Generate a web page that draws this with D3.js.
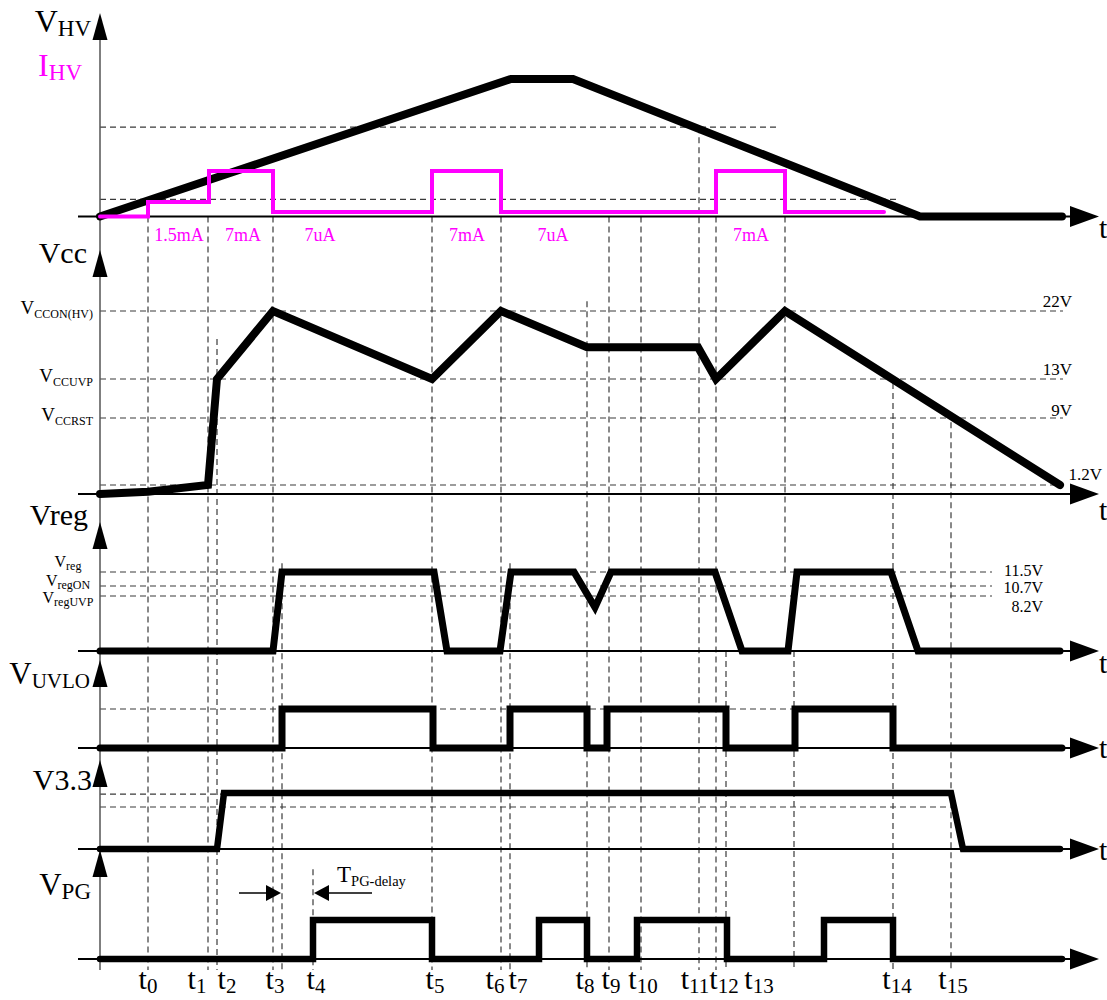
<!DOCTYPE html>
<html>
<head>
<meta charset="utf-8">
<script src="https://cdn.jsdelivr.net/npm/d3@7"></script>
<style>
  html, body { margin: 0; padding: 0; background: #fff; }
  svg { display: block; font-family: "Liberation Serif", "Times New Roman", serif; }
</style>
</head>
<body>
<svg id="chart" width="1107" height="1000"></svg>
<script>
// ---------------- waveform data (time in arbitrary units on the shared t axis) ----------------
// High-voltage input (percent of peak) and HV start-up current (mA)
const hvTime  = [0, 41.1, 47.3, 82.0, 96.2];
const hvLevel = [0, 100, 100, 0, 0];
const hvRefLevels = [65, 12.4];
const hvRefEnd    = [67.8, 80.0];

const ihvTime  = [0, 4.8, 10.9, 17.3, 33.2, 40.1, 61.6, 68.5, 78.4];
const ihvValue = [0, 1.5, 7, 0.007, 7, 0.007, 7, 0.007, 0.007];
const ihvLabels    = ["1.5mA", "7mA", "7uA", "7mA", "7uA", "7mA"];
const ihvLabelTime = [7.9, 14.3, 22.0, 36.7, 45.3, 65.1];

// Vcc supply (V)
const vccTime  = [0, 4.8, 10.8, 11.7, 17.3, 33.2, 40.1, 48.7, 59.8, 61.6, 68.5, 96.0];
const vccValue = [0, 0.3, 1.2, 13, 22, 13, 22, 17.2, 17.2, 13, 22, 1.2];
const vccRefValues = [22, 13, 9, 1.2];
const vccRefText   = ["22V", "13V", "9V", "1.2V"];
const vccRefNames  = ["CCON(HV)", "CCUVP", "CCRST"];

// Regulator output (V)
const regTime  = [0, 17.3, 18.2, 33.4, 34.7, 40.0, 41.1, 47.4, 49.5, 51.1, 61.5, 64.2, 68.8, 69.7, 79.1, 81.8, 96.0];
const regValue = [0, 0, 11.5, 11.5, 0, 0, 11.5, 11.5, 6.5, 11.5, 11.5, 0, 0, 11.5, 11.5, 0, 0];
const regRefValues = [11.5, 10.7, 8.2];
const regRefText   = ["11.5V", "10.7V", "8.2V"];
const regRefNames  = ["reg", "regON", "regUVP"];

// UVLO flag (logic level)
const uvloTime  = [0, 18.2, 33.3, 41.0, 48.7, 50.7, 62.6, 69.5, 79.3, 96.2];
const uvloValue = [0, 1, 0, 1, 0, 1, 0, 1, 0, 0];

// 3.3 V rail (normalised)
const v33Time  = [0, 11.7, 12.4, 85.1, 86.3, 96.0];
const v33Value = [0, 0, 1, 1, 0, 0];
const v33RefLevels = [0.98, 0.75];

// Power-good output (logic level)
const pgTime  = [0, 21.3, 33.2, 43.9, 48.7, 53.7, 62.7, 72.4, 79.3, 96.2];
const pgValue = [0, 1, 0, 1, 0, 1, 0, 1, 0, 0];

// Event markers: time, and the trace/level each dashed guide starts from
const markerTime      = [4.8, 10.8, 11.7, 17.3, 18.2, 21.3, 33.2, 40.1, 41.0, 48.7, 50.9, 54.1, 59.9, 61.6, 62.6, 68.5, 69.4, 79.3, 85.1];
const markerFrom      = ["hv", "hv", "vcc", "hv", "reg", "pg", "hv", "hv", "reg", "vcc", "hv", "hv", "hv", "hv", "reg", "hv", "reg", "vcc", "vcc"];
const markerFromLevel = [0, 0, 18.3, 0, 12.0, 2.3, 0, 0, 12.0, 23.3, 0, 0, 65, 0, 0, 0, 0, 12.6, 8.5];
const markerStopsAtReg = [68.5];

// Time-axis labels t0 … t15
const tickSub  = ["0", "1", "2", "3", "4", "5", "6", "7", "8", "9", "10", "11", "12", "13", "14", "15"];
const tickTime = [4.8, 9.7, 12.7, 17.5, 21.6, 33.5, 39.5, 41.8, 48.5, 51.1, 54.3, 59.5, 62.4, 65.9, 79.7, 85.3];

// T_PG-delay span
const pgDelay = [18.2, 21.3];

// ---------------- scales ----------------
const svg = d3.select("#chart");
const x = d3.scaleLinear().domain([0, 100]).range([100, 1100]);

const yHV   = d3.scaleLinear().domain([0, 100]).range([216.5, 79]);
const yIHV  = d3.scaleLinear().domain([0, 0.007, 1.5, 7]).range([216.5, 212, 202, 171]);
const yVcc  = d3.scaleLinear().domain([0, 1.2, 9, 13, 22]).range([494, 485, 418, 379, 311]);
const yReg  = d3.scaleLinear().domain([0, 8.2, 10.7, 11.5]).range([651, 596, 586, 572]);
const yUVLO = d3.scaleLinear().domain([0, 1]).range([748, 709]);
const y33   = d3.scaleLinear().domain([0, 1]).range([849, 793]);
const yPG   = d3.scaleLinear().domain([0, 1]).range([959, 920]);
const yOf = { hv: yHV, vcc: yVcc, reg: yReg, uvlo: yUVLO, v33: y33, pg: yPG };

const zip = (ts, vs) => ts.map((t, i) => ({ t, v: vs[i] }));
const DASH = "6,4";
const GRID = "#3a3a3a";

const gGrid = svg.append("g");
const gAxes = svg.append("g");
const gWave = svg.append("g");
const gText = svg.append("g");

// ---------------- helpers ----------------
function subLabel(g, px, py, main, sub, o) {
  const t = g.append("text")
    .attr("x", px).attr("y", py)
    .attr("text-anchor", o.anchor || "start")
    .attr("fill", o.color || "#000")
    .attr("font-size", o.size);
  t.append("tspan").text(main);
  if (sub) t.append("tspan").attr("dy", o.dy).attr("font-size", o.subSize).text(sub);
  return t;
}
function hDash(y, t0, t1) {
  gGrid.append("line").attr("x1", x(t0)).attr("x2", x(t1)).attr("y1", y).attr("y2", y)
    .attr("stroke", GRID).attr("stroke-width", 1.2).attr("stroke-dasharray", DASH);
}

// ---------------- dashed reference levels ----------------
hvRefLevels.forEach((v, i) => hDash(yHV(v), 0, hvRefEnd[i]));
vccRefValues.forEach(v => hDash(yVcc(v), 0, 96.3));
regRefValues.forEach(v => hDash(yReg(v), 0, 89.2));
hDash(yUVLO(1), 0, 69.5);
v33RefLevels.forEach(v => hDash(y33(v), 0, 85.0));

// ---------------- dashed event markers ----------------
markerTime.forEach((t, i) => {
  const yTop = yOf[markerFrom[i]](markerFromLevel[i]);
  const yBot = markerStopsAtReg.includes(t) ? yReg(11.5) : yPG(-0.28);
  gGrid.append("line").attr("x1", x(t)).attr("x2", x(t)).attr("y1", yTop).attr("y2", yBot)
    .attr("stroke", GRID).attr("stroke-width", 1.2).attr("stroke-dasharray", DASH);
});

// ---------------- axes ----------------
// shared vertical axis
gAxes.append("line").attr("x1", x(0)).attr("x2", x(0)).attr("y1", 30).attr("y2", yPG(-0.28))
  .attr("stroke", "#555").attr("stroke-width", 1.5);

const panels = [
  { y: yHV,   top: 13,  tLabel: 21 },
  { y: yVcc,  top: 250, tLabel: 26 },
  { y: yReg,  top: 522, tLabel: 22 },
  { y: yUVLO, top: 660, tLabel: 10 },
  { y: y33,   top: 760, tLabel: 11 },
  { y: yPG,   top: 850, tLabel: null }
];
panels.forEach(p => {
  const base = p.y(0);
  gAxes.append("line").attr("x1", x(-2.2)).attr("x2", x(97)).attr("y1", base).attr("y2", base)
    .attr("stroke", "#000").attr("stroke-width", 2.2);
  gAxes.append("path")
    .attr("d", `M${x(97)},${base - 10.5}L${x(99.9)},${base}L${x(97)},${base + 10.5}Z`)
    .attr("fill", "#000");
  gAxes.append("path")
    .attr("d", `M${x(0)},${p.top}L${x(0) + 7.5},${p.top + 27}L${x(0) - 7.5},${p.top + 27}Z`)
    .attr("fill", "#000");
  if (p.tLabel !== null) {
    gText.append("text").attr("x", 1099).attr("y", base + p.tLabel)
      .attr("font-size", 30).text("t");
  }
});

// ---------------- waveforms ----------------
function trace(data, y, curve, width, color) {
  const line = d3.line().x(d => x(d.t)).y(d => y(d.v)).curve(curve);
  gWave.append("path").datum(data).attr("d", line)
    .attr("fill", "none").attr("stroke", color || "#000").attr("stroke-width", width)
    .attr("stroke-linejoin", "miter").attr("stroke-miterlimit", 3).attr("stroke-linecap", "round");
}
trace(zip(hvTime, hvLevel), yHV, d3.curveLinear, 8);
trace(zip(ihvTime, ihvValue), yIHV, d3.curveStepAfter, 4, "#ff00ff");
trace(zip(vccTime, vccValue), yVcc, d3.curveLinear, 8);
trace(zip(regTime, regValue), yReg, d3.curveLinear, 7);
trace(zip(uvloTime, uvloValue), yUVLO, d3.curveStepAfter, 7);
trace(zip(v33Time, v33Value), y33, d3.curveLinear, 6.5);
trace(zip(pgTime, pgValue), yPG, d3.curveStepAfter, 6.5);

// ---------------- IHV current labels ----------------
ihvLabels.forEach((s, i) => {
  gText.append("text").attr("x", x(ihvLabelTime[i])).attr("y", 241)
    .attr("text-anchor", "middle").attr("font-size", 18).attr("fill", "#ff00ff").text(s);
});

// ---------------- panel titles ----------------
subLabel(gText, 91, 32, "V", "HV", { anchor: "end", size: 32, subSize: 23, dy: 4 });
subLabel(gText, 82, 76, "I", "HV", { anchor: "end", size: 32, subSize: 23, dy: 4, color: "#ff00ff" });
gText.append("text").attr("x", 87).attr("y", 263).attr("text-anchor", "end").attr("font-size", 30).text("Vcc");
gText.append("text").attr("x", 88).attr("y", 525).attr("text-anchor", "end").attr("font-size", 30).text("Vreg");
subLabel(gText, 90, 684, "V", "UVLO", { anchor: "end", size: 31, subSize: 21, dy: 4 });
gText.append("text").attr("x", 92).attr("y", 790).attr("text-anchor", "end").attr("font-size", 30).text("V3.3");
subLabel(gText, 91, 895, "V", "PG", { anchor: "end", size: 31, subSize: 23, dy: 4 });

// ---------------- Vcc level names and values ----------------
vccRefNames.forEach((s, i) => {
  subLabel(gText, 93, yVcc(vccRefValues[i]) + 3, "V", s, { anchor: "end", size: 19, subSize: 12, dy: 4 });
});
vccRefText.forEach((s, i) => {
  const last = i === vccRefText.length - 1;
  gText.append("text")
    .attr("x", last ? 1102 : 1072)
    .attr("y", yVcc(vccRefValues[i]) - (last ? 5 : 4) + (s === "9V" ? 2 : 0))
    .attr("text-anchor", "end").attr("font-size", 17).text(s);
});

// ---------------- Vreg level names and values ----------------
const regNameDy = [-5, 0, 7];
regRefNames.forEach((s, i) => {
  subLabel(gText, 68, yReg(regRefValues[i]) + regNameDy[i], "V", s, { anchor: "middle", size: 16, subSize: 12, dy: 3 });
});
const regValDy = [4, 7, 16];
regRefText.forEach((s, i) => {
  gText.append("text").attr("x", 1043).attr("y", yReg(regRefValues[i]) + regValDy[i])
    .attr("text-anchor", "end").attr("font-size", 16).text(s);
});

// ---------------- time labels ----------------
tickSub.forEach((s, i) => {
  subLabel(gText, x(tickTime[i]), 989, "t", s, { anchor: "middle", size: 30, subSize: 21, dy: 4 });
});

// ---------------- T_PG-delay annotation ----------------
const yArrow = 893;
const gAnn = svg.append("g");
gAnn.append("line").attr("x1", x(pgDelay[0]) - 43).attr("x2", x(pgDelay[0]) - 10)
  .attr("y1", yArrow).attr("y2", yArrow).attr("stroke", "#000").attr("stroke-width", 1.3);
gAnn.append("path")
  .attr("d", `M${x(pgDelay[0]) - 1},${yArrow}L${x(pgDelay[0]) - 16},${yArrow - 8}L${x(pgDelay[0]) - 16},${yArrow + 8}Z`)
  .attr("fill", "#000");
gAnn.append("line").attr("x1", x(pgDelay[1]) + 10).attr("x2", x(pgDelay[1]) + 59)
  .attr("y1", yArrow).attr("y2", yArrow).attr("stroke", "#000").attr("stroke-width", 1.3);
gAnn.append("path")
  .attr("d", `M${x(pgDelay[1]) + 1},${yArrow}L${x(pgDelay[1]) + 16},${yArrow - 8}L${x(pgDelay[1]) + 16},${yArrow + 8}Z`)
  .attr("fill", "#000");
subLabel(gAnn, x(pgDelay[1]) + 24, 882, "T", "PG-delay", { anchor: "start", size: 23, subSize: 14.5, dy: 4 });
</script>
</body>
</html>
